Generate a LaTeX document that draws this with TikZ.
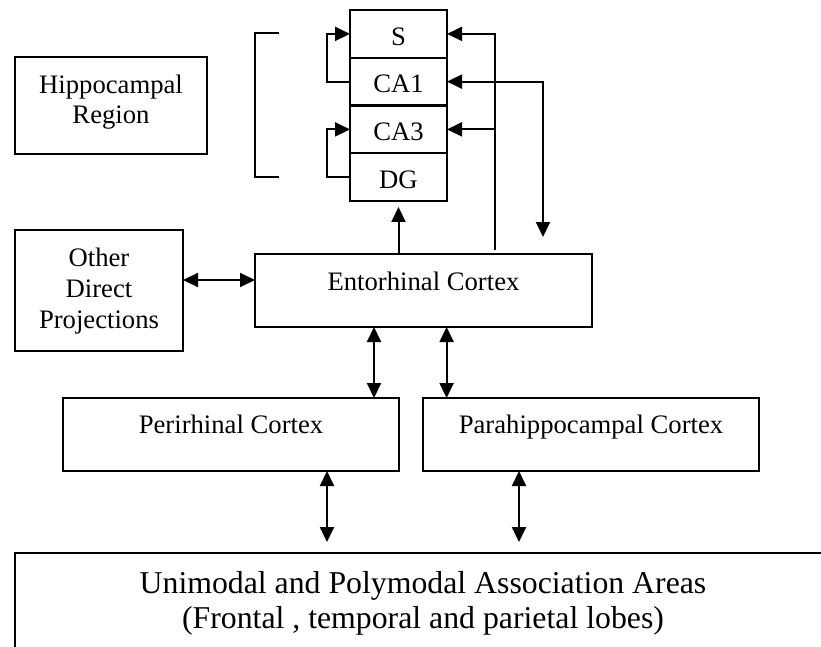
\documentclass[tikz,border=0pt]{standalone}
\usepackage{fontspec}
\setmainfont{Liberation Serif}
\usetikzlibrary{arrows.meta,calc}
\tikzset{
  box/.style={draw=black,line width=.9pt,rectangle,inner sep=0pt,outer sep=0pt,font=\fontsize{12pt}{13.8pt}\selectfont,text height=16.2pt},
  lay/.style={box,minimum width=43.65pt,minimum height=21.49pt,text height=15.8pt,text depth=5.69pt},
  wire/.style={line width=.9pt},
  arr/.style={wire,-{Triangle[length=6.75pt,width=6.3pt]}},
  biarr/.style={wire,{Triangle[length=6.75pt,width=6.3pt]}-{Triangle[length=6.75pt,width=6.3pt]}},
}
\begin{document}
\begin{tikzpicture}[x=.45pt,y=-.45pt]
  \useasboundingbox (0,0) rectangle (821,647);
  \clip (0,0) rectangle (821,647);
  % hippocampal region
  \node[box,minimum width=86.4pt,minimum height=43.65pt,text depth=27.45pt] (hip) at (111,105.5) {\begin{tabular}[t]{@{}c@{}}Hippocampal\\Region\end{tabular}};
  \draw[wire] (279,33) -| (255,177) -- (279,177);
  % layers
  \node[lay] (s) at (398.5,33.9) {S};
  \node[lay] (ca1) at (398.5,81.6) {CA1};
  \node[lay] (ca3) at (398.5,129.4) {CA3};
  \node[lay] (dg) at (398.5,177.1) {DG};
  % cortex boxes
  \node[box,minimum width=75.6pt,minimum height=54.45pt,text height=16.5pt,text depth=37.95pt] (odp) at (99,290.5) {\begin{tabular}[t]{@{}c@{}}Other\\Direct\\Projections\end{tabular}};
  \node[box,minimum width=151.65pt,minimum height=32.85pt,text height=16.5pt,text depth=16.35pt] (ec) at (423.5,290.5) {Entorhinal Cortex};
  \node[box,minimum width=151.2pt,minimum height=32.85pt,text height=16pt,text depth=16.85pt] (peri) at (231,434.5) {Perirhinal Cortex};
  \node[box,minimum width=151.2pt,minimum height=32.85pt,text height=16pt,text depth=16.85pt] (para) at (591,434.5) {Parahippocampal Cortex};
  \node[box,minimum width=367.2pt,minimum height=57.15pt,text height=18pt,text depth=39.15pt,font=\fontsize{14.3pt}{15.8pt}\selectfont] (assoc) at (423,616.5) {\begin{tabular}[t]{@{}c@{}}Unimodal and Polymodal Association Areas\\(Frontal , temporal and parietal lobes)\end{tabular}};
  % loops inside the hippocampus
  \draw[arr] (ca1.west) -- ++(-23,0) |- (s.west);
  \draw[arr] (dg.west) -- ++(-23,0) |- (ca3.west);
  % from entorhinal cortex
  \coordinate (ecup) at (495,250);
  \draw[arr] (ecup) |- (s.east);
  \draw[arr] (ecup |- ca3.east) -- (ca3.east);
  \coordinate (ca1out) at (543,237);
  \draw[biarr] (ca1.east) -| (ca1out);
  \draw[arr,shorten >=2.7pt] (ec.north -| dg.south) -- (dg.south);
  \draw[biarr] (odp.east |- 0,280) -- (ec.west |- 0,280);
  \draw[biarr] (ec.south -| 374,0) -- (peri.north -| 374,0);
  \draw[biarr] (ec.south -| 446.6,0) -- (para.north -| 446.6,0);
  % to association areas
  \draw[biarr,shorten >=4.95pt] (peri.south -| 327,0) -- (assoc.north -| 327,0);
  \draw[biarr,shorten >=4.95pt] (para.south -| 519,0) -- (assoc.north -| 519,0);
\end{tikzpicture}
\end{document}
